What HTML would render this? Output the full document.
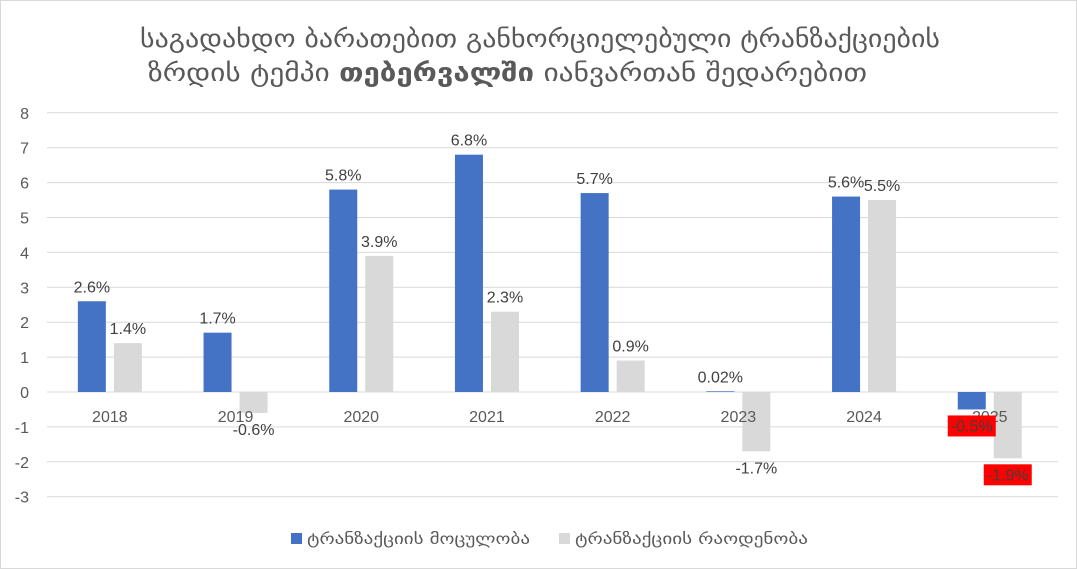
<!DOCTYPE html>
<html><head><meta charset="utf-8"><style>
body{margin:0;background:#fff;}
svg{display:block;font-family:"Liberation Sans","DejaVu Sans",sans-serif;}
</style></head><body>
<svg width="1077" height="569">
<rect x="0.5" y="0.5" width="1076" height="568" fill="#fff" stroke="#d9d9d9"/>
<text x="140" y="47" textLength="800" lengthAdjust="spacingAndGlyphs" font-size="25" fill="#595959" font-family="DejaVu Sans,sans-serif">საგადახდო ბარათებით განხორციელებული ტრანზაქციების</text>
<text x="148" y="81" textLength="719" lengthAdjust="spacingAndGlyphs" font-size="25" fill="#595959" font-family="DejaVu Sans,sans-serif">ზრდის ტემპი <tspan font-weight="bold">თებერვალში</tspan> იანვართან შედარებით</text>
<g id="grid"></g><g id="bars"></g><g id="labels"></g>
<g>
<rect x="291" y="533" width="11" height="11" fill="#4472c4"/>
<text x="307" y="544" textLength="223" lengthAdjust="spacingAndGlyphs" font-size="15" fill="#595959" font-family="DejaVu Sans,sans-serif">ტრანზაქციის მოცულობა</text>
<rect x="559" y="533" width="11" height="11" fill="#d9d9d9"/>
<text x="575" y="544" textLength="233" lengthAdjust="spacingAndGlyphs" font-size="15" fill="#595959" font-family="DejaVu Sans,sans-serif">ტრანზაქციის რაოდენობა</text>
</g>
</svg>
<script>
const categories=["2018","2019","2020","2021","2022","2023","2024","2025"];
const volume=[2.6,1.7,5.8,6.8,5.7,0.02,5.6,-0.5];
const count=[1.4,-0.6,3.9,2.3,0.9,-1.7,5.5,-1.9];
const volumeLabels=["2.6%","1.7%","5.8%","6.8%","5.7%","0.02%","5.6%","-0.5%"];
const countLabels=["1.4%","-0.6%","3.9%","2.3%","0.9%","-1.7%","5.5%","-1.9%"];
const yTicks=[8,7,6,5,4,3,2,1,0,-1,-2,-3];
const NS="http://www.w3.org/2000/svg";
const L=47,R=1058,Y0=392,PU=34.9,CW=125.7;
const y=v=>Y0-v*PU, cx=i=>L+CW*(i+0.5);
function mk(t,a,p){const e=document.createElementNS(NS,t);for(const k in a)e.setAttribute(k,a[k]);p.appendChild(e);return e;}
const g=document.getElementById('grid'),b=document.getElementById('bars'),lb=document.getElementById('labels');
yTicks.forEach(v=>{
 const l=mk('line',{x1:L,x2:R,y1:y(v),y2:y(v),stroke:'#d9d9d9','stroke-width':1},g);
 
 
 const t=mk('text',{x:29,y:y(v)+6,'text-anchor':'end','font-size':16,fill:'#595959'},g);
 t.textContent=v;
 
 
});
categories.forEach((c,i)=>{
 const t=mk('text',{x:cx(i),y:Y0+30,'text-anchor':'middle','font-size':16,fill:'#595959'},lb);
 t.textContent=c;
 
 
 [[volume,volumeLabels,-32,'#4472c4'],[count,countLabels,4,'#d9d9d9']].forEach(([arr,labs,off,col],s)=>{
  const v=arr[i],top=Math.min(y(v),Y0),h=Math.abs(y(v)-Y0);
  const r=mk('rect',{x:cx(i)+off,y:top,width:28,height:h,fill:col},b);
  
  
  const lx=cx(i)+off+14, ly=v>=0?y(v)-9:y(v)+22;
  if(i===7){
   mk('rect',{x:lx-24,y:ly-16,width:48,height:21,fill:'#ff0000'},lb);
  }
  const t2=mk('text',{x:lx,y:ly,'text-anchor':'middle','font-size':16,fill:'#404040'},lb);
  t2.textContent=labs[i];
  
  
 });
});
</script>
</body></html>
